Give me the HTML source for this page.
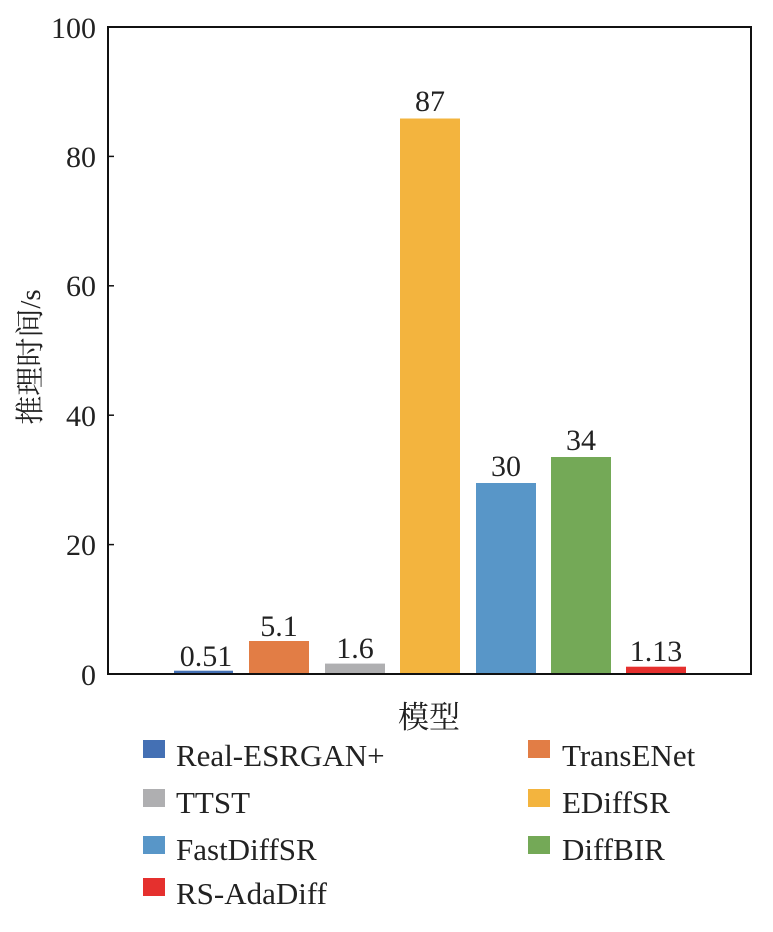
<!DOCTYPE html>
<html><head><meta charset="utf-8"><style>
html,body{margin:0;padding:0;background:#fff;}
svg text{font-family:"Liberation Serif","Noto Serif CJK SC",serif;fill:#222;}
</style></head><body>
<svg width="773" height="927" viewBox="0 0 773 927" xmlns="http://www.w3.org/2000/svg">
<rect x="0" y="0" width="773" height="927" fill="#fff"/>
<rect x="174" y="670.7" width="59" height="3.3" fill="#4470b4"/>
<rect x="249" y="641" width="60" height="33" fill="#e27d45"/>
<rect x="325" y="663.6" width="60" height="10.4" fill="#afafb1"/>
<rect x="400" y="118.5" width="60" height="555.5" fill="#f3b43e"/>
<rect x="476" y="483" width="60" height="191" fill="#5896c8"/>
<rect x="551" y="457" width="60" height="217" fill="#74a957"/>
<rect x="626" y="666.7" width="60" height="7.3" fill="#e5302e"/>
<g font-size="30" text-anchor="middle">
<text x="206" y="666">0.51</text>
<text x="279" y="636">5.1</text>
<text x="355" y="658">1.6</text>
<text x="430" y="111">87</text>
<text x="506" y="476">30</text>
<text x="581" y="450">34</text>
<text x="656" y="661">1.13</text>
</g>
<rect x="108" y="27" width="643" height="647" fill="none" stroke="#111" stroke-width="2"/>
<g stroke="#111" stroke-width="1.5">
<line x1="108" y1="544.6" x2="114" y2="544.6"/>
<line x1="108" y1="415.2" x2="114" y2="415.2"/>
<line x1="108" y1="285.8" x2="114" y2="285.8"/>
<line x1="108" y1="156.4" x2="114" y2="156.4"/>
</g>
<g font-size="30" text-anchor="end">
<text x="96" y="685">0</text>
<text x="96" y="555">20</text>
<text x="96" y="426">40</text>
<text x="96" y="296">60</text>
<text x="96" y="167">80</text>
<text x="96" y="38">100</text>
</g>
<text transform="translate(40,357) rotate(-90)" font-size="29" text-anchor="middle">推理时间/s</text>
<text x="429" y="728" font-size="31" text-anchor="middle">模型</text>
<g font-size="31">
<rect x="143" y="740" width="22" height="18" fill="#4470b4"/><text x="176" y="766">Real-ESRGAN+</text>
<rect x="528" y="740" width="22" height="18" fill="#e27d45"/><text x="562" y="766">TransENet</text>
<rect x="143" y="789" width="22" height="18" fill="#afafb1"/><text x="176" y="813">TTST</text>
<rect x="528" y="789" width="22" height="18" fill="#f3b43e"/><text x="562" y="813">EDiffSR</text>
<rect x="143" y="836" width="22" height="18" fill="#5896c8"/><text x="176" y="860">FastDiffSR</text>
<rect x="528" y="836" width="22" height="18" fill="#74a957"/><text x="562" y="860">DiffBIR</text>
<rect x="143" y="878" width="22" height="18" fill="#e5302e"/><text x="176" y="904">RS-AdaDiff</text>
</g>
</svg>
</body></html>
